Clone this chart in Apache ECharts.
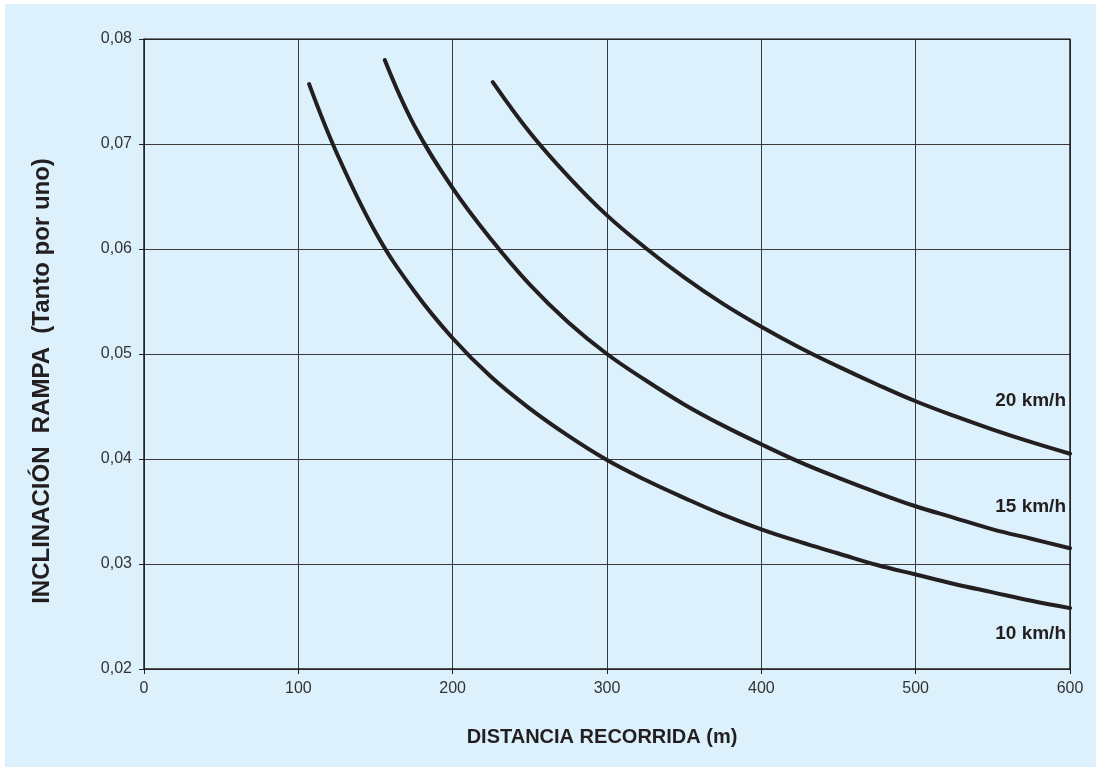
<!DOCTYPE html>
<html>
<head>
<meta charset="utf-8">
<script src="https://cdn.jsdelivr.net/npm/echarts@6/dist/echarts.min.js"></script>
<style>
  html, body { margin: 0; padding: 0; background: #ffffff; }
  #chart { width: 1096px; height: 769px; }
</style>
</head>
<body>
<div id="chart"></div>
<script>
  // valores (distancia m, inclinacion tanto por uno)
  var dist10 = [107, 125, 150, 175, 200, 225, 250, 275, 300, 325, 350, 375, 400, 425, 450, 475, 500, 525, 550, 575, 600];
  var incl10 = [0.0757, 0.0691, 0.0616, 0.0560, 0.0515, 0.0478, 0.0448, 0.0422, 0.0399, 0.0380, 0.0363, 0.0347, 0.0333, 0.0321, 0.0310, 0.0299, 0.0290, 0.0281, 0.0273, 0.0265, 0.0258];

  var dist15 = [156, 175, 200, 225, 250, 275, 300, 325, 350, 375, 400, 425, 450, 475, 500, 525, 550, 575, 600];
  var incl15 = [0.0780, 0.0718, 0.0658, 0.0609, 0.0566, 0.0530, 0.0500, 0.0475, 0.0452, 0.0432, 0.0414, 0.0397, 0.0382, 0.0368, 0.0355, 0.0344, 0.0333, 0.0324, 0.0315];

  var dist20 = [226, 250, 275, 300, 325, 350, 375, 400, 425, 450, 475, 500, 525, 550, 575, 600];
  var incl20 = [0.0759, 0.0711, 0.0669, 0.0632, 0.0601, 0.0573, 0.0548, 0.0526, 0.0506, 0.0488, 0.0471, 0.0455, 0.0441, 0.0428, 0.0416, 0.0405];

  var seriesNames = ['10 km/h', '15 km/h', '20 km/h'];

  function pairs(xs, ys) {
    var out = [];
    for (var i = 0; i < xs.length; i++) out.push([xs[i], ys[i]]);
    return out;
  }

  var chart = echarts.init(document.getElementById('chart'));

  var lineStyle = { color: '#231f20', width: 4, cap: 'round' };
  var font = 'Liberation Sans, Arial, sans-serif';
  var labelFont = 'bold 19px ' + font;

  chart.setOption({
    animation: false,
    backgroundColor: 'transparent',
    graphic: [
      { type: 'rect', z: -10, shape: { x: 5, y: 4, width: 1091, height: 763 }, style: { fill: '#dcf1fc' } },
      { type: 'text', right: 30, top: 391, style: { text: seriesNames[2], font: labelFont, fill: '#231f20' } },
      { type: 'text', right: 30, top: 497, style: { text: seriesNames[1], font: labelFont, fill: '#231f20' } },
      { type: 'text', right: 30, top: 624, style: { text: seriesNames[0], font: labelFont, fill: '#231f20' } },
      // titulo del eje vertical
      {
        type: 'text', x: 42, y: 381, rotation: Math.PI / 2,
        style: {
          text: 'INCLINACIÓN  RAMPA  (Tanto por uno)',
          font: 'bold 24px ' + font, fill: '#231f20',
          align: 'center', verticalAlign: 'middle'
        }
      }
    ],
    grid: { left: 144, right: 26, top: 39, bottom: 100, containLabel: false },
    xAxis: {
      type: 'value',
      min: 0, max: 600, interval: 100,
      name: 'DISTANCIA RECORRIDA (m)',
      nameLocation: 'middle',
      nameGap: 58,
      nameTextStyle: { fontFamily: font, fontSize: 20, fontWeight: 'bold', color: '#231f20', padding: [0, 10, 0, 0] },
      axisLine: { lineStyle: { color: '#231f20', width: 1.5 } },
      axisTick: { show: true, length: 5, lineStyle: { color: '#231f20' } },
      axisLabel: { fontFamily: font, fontSize: 16, color: '#333', margin: 12 },
      splitLine: { show: true, lineStyle: { color: '#3a3a3a', width: 1 } }
    },
    yAxis: {
      type: 'value',
      min: 0.02, max: 0.08, interval: 0.01,
      axisLine: { show: true, lineStyle: { color: '#231f20', width: 1.5 } },
      axisTick: { show: true, length: 5, lineStyle: { color: '#231f20' } },
      axisLabel: {
        fontFamily: font, fontSize: 16, color: '#333', margin: 12,
        formatter: function (v) { return v.toFixed(2).replace('.', ','); }
      },
      splitLine: { show: true, lineStyle: { color: '#3a3a3a', width: 1 } }
    },
    series: [
      { name: seriesNames[0], type: 'line', smooth: 0.4, symbol: 'none', lineStyle: lineStyle, data: pairs(dist10, incl10) },
      { name: seriesNames[1], type: 'line', smooth: 0.4, symbol: 'none', lineStyle: lineStyle, data: pairs(dist15, incl15) },
      { name: seriesNames[2], type: 'line', smooth: 0.4, symbol: 'none', lineStyle: lineStyle, data: pairs(dist20, incl20) },
      // bordes superior y derecho del area
      {
        type: 'line', symbol: 'none', silent: true,
        lineStyle: { color: '#231f20', width: 1.5 },
        data: [[0, 0.08], [600, 0.08], [600, 0.02]]
      }
    ]
  });
</script>
</body>
</html>
